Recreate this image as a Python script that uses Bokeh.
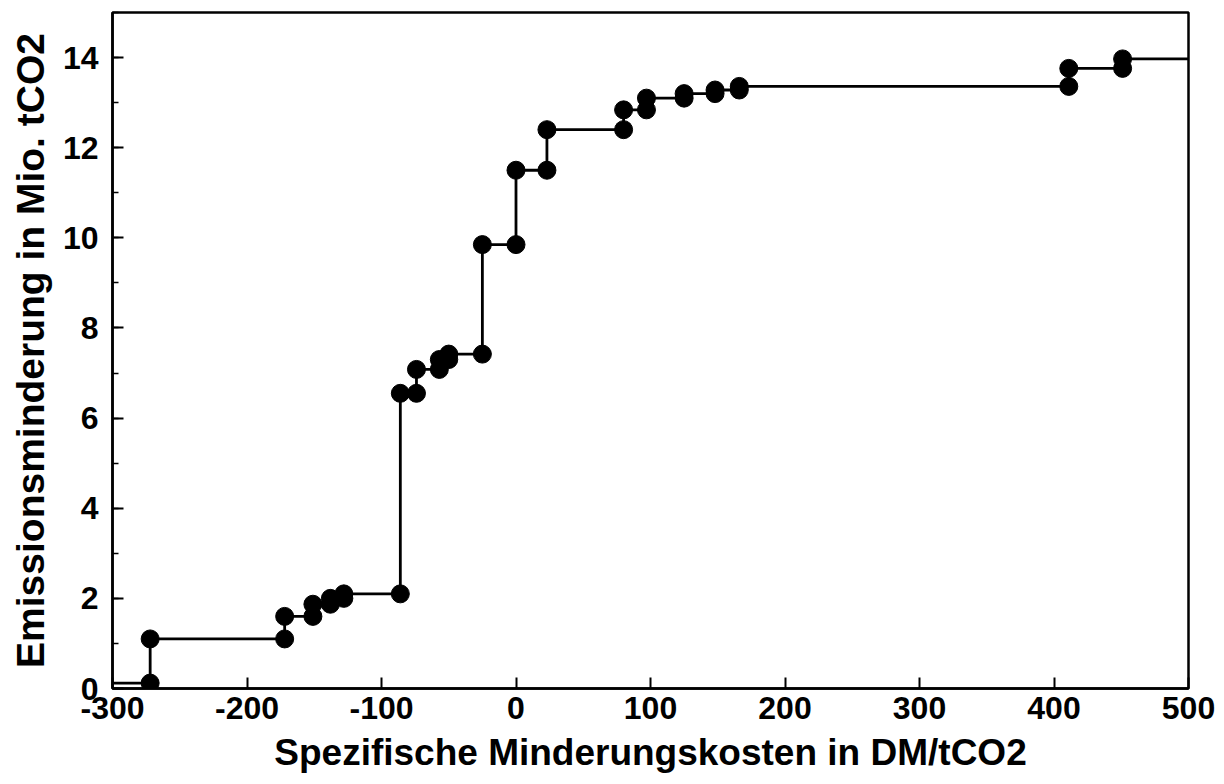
from bokeh.plotting import figure
from bokeh.models import Range1d, FixedTicker
from bokeh.embed import file_html
from bokeh.resources import INLINE

# Spezifische Minderungskosten (DM/tCO2) of each measure, in cost order
kosten = [-272, -172, -151, -138, -128, -86, -74, -57, -50, -25, 0, 23, 80, 97, 125, 148, 166, 411, 451]
# Cumulative emission reduction (Mio. tCO2): level before first measure, then after each measure
kumuliert = [0.12, 1.1, 1.6, 1.87, 2.0, 2.1, 6.55, 7.08, 7.3, 7.42, 9.85, 11.5, 12.4, 12.84, 13.1,
             13.2, 13.28, 13.36, 13.76, 13.97]

x_ticks = [-300, -200, -100, 0, 100, 200, 300, 400, 500]
y_ticks = [0, 2, 4, 6, 8, 10, 12, 14]
y_minor = list(range(0, 16))

x_min, x_max = -300, 500
y_min, y_max = 0, 15

FONT = "Liberation Sans"

p = figure(width=1216, height=780,
           x_range=Range1d(x_min, x_max), y_range=Range1d(y_min, y_max),
           output_backend="svg", toolbar_location=None,
           min_border_left=112, min_border_right=28, min_border_top=12, min_border_bottom=92)

p.background_fill_color = "white"
p.border_fill_color = "white"
p.outline_line_color = "black"
p.outline_line_width = 2.5
p.grid.visible = False

# step curve
step_x = [x_min] + kosten + [x_max]
step_y = kumuliert + [kumuliert[-1]]
p.step(step_x, step_y, mode="after", line_color="black", line_width=2.8)

# dots: before and after each step
dot_x = kosten + kosten
dot_y = kumuliert[:-1] + kumuliert[1:]
p.scatter(dot_x, dot_y, size=18, fill_color="black", line_color="black")

# axes
p.xaxis.ticker = FixedTicker(ticks=x_ticks)
p.yaxis.ticker = FixedTicker(ticks=y_ticks, minor_ticks=y_minor)
p.xaxis.major_label_overrides = {t: str(t) for t in x_ticks}
p.yaxis.major_label_overrides = {t: str(t) for t in y_ticks}
for ax in (p.xaxis, p.yaxis):
    ax.axis_line_color = "black"
    ax.axis_line_width = 2.5
    ax.major_tick_line_color = "black"
    ax.major_tick_line_width = 2
    ax.major_tick_in = 11
    ax.major_tick_out = 0
    ax.minor_tick_in = 6
    ax.minor_tick_out = 0
    ax.minor_tick_line_width = 1.5
    ax.major_label_text_font = FONT
    ax.major_label_text_font_style = "bold"
    ax.major_label_text_font_size = "32px"
    ax.major_label_text_color = "black"
    ax.axis_label_text_font = FONT
    ax.axis_label_text_font_style = "bold"
    ax.axis_label_text_color = "black"
p.xaxis.axis_label_text_font_size = "37px"
p.yaxis.axis_label_text_font_size = "39px"
p.xaxis.minor_tick_line_color = None
p.yaxis.minor_tick_line_color = "black"
p.xaxis.major_label_standoff = 8
p.yaxis.major_label_standoff = 14
p.xaxis.axis_label = "Spezifische Minderungskosten in DM/tCO2"
p.yaxis.axis_label = "Emissionsminderung in Mio. tCO2"
p.xaxis.axis_label_standoff = 10
p.yaxis.axis_label_standoff = 8

open("out.html", "w").write(file_html(p, INLINE))
